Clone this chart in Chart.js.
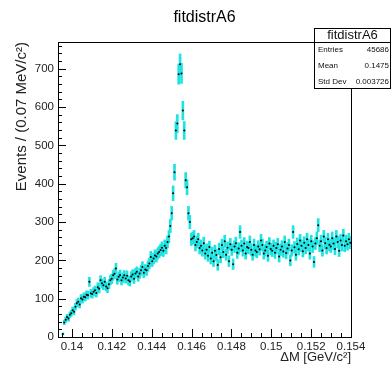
<!DOCTYPE html>
<html>
<head>
<meta charset="utf-8">
<script src="https://cdn.jsdelivr.net/npm/chart.js@4/dist/chart.umd.min.js"></script>
<style>
  html, body { margin: 0; padding: 0; background: #fff; }
</style>
</head>
<body>
<canvas id="myChart" width="391" height="365"></canvas>
<script>
// histogram binning (ΔM in GeV/c^2, 0.07 MeV bins)
const binLow = 0.1393;
const binWidth = 0.00007;

// bin contents, bin 0 .. 209
const counts = [
  0, 0, 0, 8, 38, 45, 52, 48, 58, 62,
  70, 66, 79, 88, 92, 85, 101, 98, 105, 104,
  110, 109, 144, 114, 112, 118, 122, 115, 130, 126,
  148, 140, 135, 144, 132, 127, 138, 148, 152, 161,
  165, 179, 150, 157, 162, 148, 155, 161, 153, 160,
  148, 145, 158, 163, 152, 166, 170, 158, 166, 174,
  183, 168, 176, 174, 185, 192, 209, 198, 205, 213,
  210, 218, 222, 227, 233, 225, 238, 232, 248, 262,
  290, 323, 375, 430, 539, 557, 686, 712, 688, 591,
  539, 409, 391, 323, 300, 255, 258, 262, 240, 248,
  255, 232, 238, 226, 245, 218, 228, 212, 235, 205,
  220, 198, 225, 214, 188, 230, 208, 240, 222, 250,
  215, 233, 198, 242, 228, 190, 236, 245, 220, 231,
  274, 238, 226, 244, 218, 235, 232, 248, 228, 215,
  240, 226, 222, 236, 229, 252, 240, 218, 226, 235,
  212, 244, 230, 225, 238, 220, 232, 242, 210, 228,
  236, 223, 248, 219, 231, 240, 200, 226, 274, 234,
  215, 243, 229, 252, 238, 224, 246, 232, 255, 240,
  218, 250, 236, 196, 244, 258, 292, 238, 250, 226,
  262, 245, 232, 255, 241, 236, 258, 244, 230, 262,
  248, 225, 252, 240, 265, 238, 250, 242, 255, 246
];

const xTicks = [0.14, 0.142, 0.144, 0.146, 0.148, 0.15, 0.152, 0.154];
const yTicks = [0, 100, 200, 300, 400, 500, 600, 700];
const yMax = 770;

const statLabels = ['Entries', 'Mean', 'Std Dev'];
const statValues = ['45686', '0.1475', '0.003726'];
const histName = 'fitdistrA6';

const FONT = "'Liberation Sans', Arial, Helvetica, sans-serif";

// points and sqrt(N) error bars
const points = [];
const errBars = [];
counts.forEach((n, i) => {
    if (n <= 0) return;
    const xc = binLow + (i + 0.5) * binWidth;
    const e = Math.sqrt(n);
    points.push({ x: xc, y: n });
    errBars.push({ x: xc, y: [n - e, n + e] });
});

// frame, inward ticks and stats box like ROOT draws them
const rootFrame = {
    id: 'rootFrame',
    afterDraw(chart) {
        const { ctx, chartArea: a, scales: { x, y } } = chart;
        ctx.save();
        ctx.strokeStyle = '#000';
        ctx.lineWidth = 1;
        ctx.strokeRect(Math.round(a.left) + 0.5, Math.round(a.top) + 0.5,
            Math.round(a.right - a.left), Math.round(a.bottom - a.top));

        ctx.beginPath();
        for (let v = 0; v <= yMax; v += 20) {
            const py = Math.round(y.getPixelForValue(v)) + 0.5;
            const len = v % 100 === 0 ? 8 : 4;
            ctx.moveTo(a.left, py);
            ctx.lineTo(a.left + len, py);
        }
        for (let m = 279; m <= 308; m++) {
            const px = Math.round(x.getPixelForValue(m * 0.0005)) + 0.5;
            const len = m % 4 === 0 ? 8 : 4;
            ctx.moveTo(px, a.bottom);
            ctx.lineTo(px, a.bottom - len);
        }
        ctx.stroke();

        // stats box
        const bx = 314.5, by = 28.5, bw = 76, bh = 60;
        ctx.fillStyle = '#fff';
        ctx.fillRect(bx, by, bw, bh);
        ctx.strokeRect(bx, by, bw, bh);
        ctx.beginPath();
        ctx.moveTo(bx, 42.5);
        ctx.lineTo(bx + bw, 42.5);
        ctx.stroke();
        ctx.fillStyle = '#111';
        ctx.font = '13px ' + FONT;
        ctx.textAlign = 'center';
        ctx.textBaseline = 'middle';
        ctx.fillText(histName, bx + bw / 2, 35.5);
        ctx.font = '8px ' + FONT;
        statLabels.forEach((lab, k) => {
            const ty = 50 + k * 16;
            ctx.textAlign = 'left';
            ctx.fillText(lab, 318, ty);
            ctx.textAlign = 'right';
            ctx.fillText(statValues[k], 389, ty);
        });
        ctx.restore();
    }
};

new Chart(document.getElementById('myChart'), {
    type: 'bar',
    data: {
        datasets: [
            {
                type: 'scatter',
                data: points,
                pointRadius: 1,
                pointBackgroundColor: '#000',
                pointBorderWidth: 0,
                showLine: false,
                order: 0
            },
            {
                type: 'bar',
                data: errBars,
                backgroundColor: '#1ee3e3',
                barThickness: 2,
                borderWidth: 0,
                order: 1
            }
        ]
    },
    options: {
        responsive: false,
        animation: false,
        events: [],
        layout: { padding: { left: 0, right: 40, top: 0, bottom: 0 } },
        plugins: {
            legend: { display: false },
            tooltip: { enabled: false },
            title: {
                display: true,
                text: histName,
                fullSize: false,
                color: '#000',
                font: { family: FONT, size: 16, weight: 'normal' },
                padding: { top: 8, bottom: 14.8 }
            }
        },
        scales: {
            x: {
                type: 'linear',
                offset: false,
                min: binLow,
                max: 0.154,
                afterBuildTicks: (s) => { s.ticks = xTicks.map(v => ({ value: v })); },
                afterFit: (s) => { s.height = 28; },
                grid: { display: false, drawTicks: false },
                border: { display: false },
                ticks: {
                    padding: 3,
                    maxRotation: 0,
                    autoSkip: false,
                    color: '#222',
                    font: { family: FONT, size: 11.5 },
                    callback: (v) => String(Number(v.toFixed(3)))
                },
                title: {
                    display: true,
                    text: 'ΔM [GeV/c²]',
                    align: 'end',
                    color: '#222',
                    font: { family: FONT, size: 13 },
                    padding: { top: 0, bottom: 0 }
                }
            },
            y: {
                min: 0,
                max: yMax,
                afterBuildTicks: (s) => { s.ticks = yTicks.map(v => ({ value: v })); },
                afterFit: (s) => { s.width = 58; },
                grid: { display: false, drawTicks: false },
                border: { display: false },
                ticks: {
                    padding: 4,
                    color: '#222',
                    font: { family: FONT, size: 11.5 }
                },
                title: {
                    display: true,
                    text: 'Events / (0.07 MeV/c²)',
                    align: 'end',
                    color: '#222',
                    font: { family: FONT, size: 15 },
                    padding: { top: 13, bottom: 0 }
                }
            }
        }
    },
    plugins: [rootFrame]
});
</script>
</body>
</html>
